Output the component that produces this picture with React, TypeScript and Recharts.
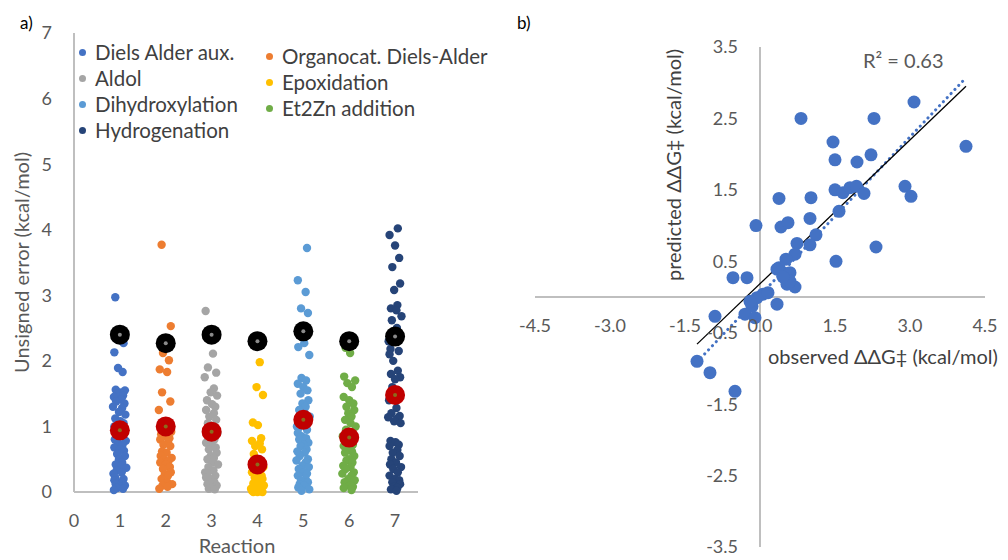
import React from 'react';
import { ScatterChart, Scatter, XAxis, YAxis, ReferenceLine, ReferenceDot, Label } from 'recharts';

const FONT = 'Lato, "Liberation Sans", sans-serif';
const TICK_COLOR = '#595959';
const AXIS_COLOR = '#bfbfbf';

// ---- panel a: unsigned errors per reaction ----
const REACTIONS = [1, 2, 3, 4, 5, 6, 7];
const X_TICKS_A = [0, 1, 2, 3, 4, 5, 6, 7];
const Y_TICKS_A = [0, 1, 2, 3, 4, 5, 6, 7];
const SERIES_NAMES = [
  'Diels Alder aux.',
  'Organocat. Diels-Alder',
  'Aldol',
  'Epoxidation',
  'Dihydroxylation',
  'Et2Zn addition',
  'Hydrogenation',
];
const SERIES_COLORS = ['#4472C4', '#ED7D31', '#A5A5A5', '#FFC000', '#5B9BD5', '#70AD47', '#264478'];

const dielsAlderAux = [2.97, 2.27, 2.13, 1.89, 1.83, 1.56, 1.55, 1.52, 1.5, 1.47, 1.45, 1.41, 1.38, 1.35, 1.3, 1.28,
  1.22, 1.18, 1.12, 1.08, 1.05, 1.0, 0.98, 0.95, 0.9, 0.88, 0.85, 0.8, 0.78, 0.75, 0.72, 0.68, 0.65, 0.63, 0.58, 0.55,
  0.5, 0.45, 0.42, 0.4, 0.37, 0.33, 0.3, 0.28, 0.22, 0.2, 0.18, 0.15, 0.14, 0.12, 0.1, 0.09, 0.06, 0.05, 0.03];
const organocatDielsAlder = [3.77, 2.53, 2.2, 2.12, 2.01, 1.87, 1.83, 1.52, 1.38, 1.25, 1.05, 0.98, 0.92, 0.88, 0.85,
  0.82, 0.8, 0.76, 0.72, 0.7, 0.62, 0.6, 0.55, 0.52, 0.5, 0.47, 0.45, 0.42, 0.38, 0.35, 0.3, 0.27, 0.25, 0.2, 0.15,
  0.12, 0.1, 0.08, 0.05];
const aldol = [2.76, 2.11, 1.9, 1.82, 1.75, 1.58, 1.52, 1.47, 1.4, 1.34, 1.3, 1.25, 1.2, 1.15, 1.1, 1.05, 1.0, 0.95,
  0.9, 0.85, 0.8, 0.75, 0.72, 0.68, 0.65, 0.6, 0.55, 0.52, 0.5, 0.45, 0.42, 0.38, 0.33, 0.3, 0.28, 0.25, 0.22, 0.2,
  0.15, 0.12, 0.1, 0.07, 0.05, 0.04];
const epoxidation = [1.98, 1.6, 1.48, 1.06, 1.02, 0.82, 0.78, 0.74, 0.7, 0.65, 0.58, 0.5, 0.45, 0.38, 0.36, 0.34, 0.3,
  0.27, 0.25, 0.22, 0.2, 0.18, 0.16, 0.13, 0.12, 0.1, 0.08, 0.06, 0.05, 0.04, 0.03, 0.02, 0.02, 0.01, 0.0, 0.0, 0.0];
const dihydroxylation = [3.72, 3.23, 3.05, 2.8, 2.73, 2.5, 2.27, 2.21, 2.09, 1.74, 1.7, 1.65, 1.6, 1.55, 1.5, 1.4,
  1.35, 1.3, 1.25, 1.2, 1.15, 1.1, 1.05, 1.0, 0.98, 0.95, 0.9, 0.85, 0.82, 0.8, 0.75, 0.72, 0.7, 0.65, 0.62, 0.6, 0.55,
  0.5, 0.48, 0.45, 0.4, 0.38, 0.35, 0.3, 0.28, 0.25, 0.2, 0.18, 0.15, 0.12, 0.1, 0.07, 0.04, 0.02];
const et2ZnAddition = [2.2, 2.12, 1.76, 1.7, 1.66, 1.6, 1.45, 1.4, 1.35, 1.3, 1.25, 1.2, 1.15, 1.1, 1.05, 1.0, 0.95,
  0.9, 0.85, 0.78, 0.72, 0.7, 0.65, 0.62, 0.6, 0.55, 0.5, 0.48, 0.45, 0.4, 0.38, 0.35, 0.3, 0.28, 0.25, 0.2, 0.18,
  0.15, 0.1, 0.08, 0.06, 0.03];
const hydrogenation = [4.02, 3.92, 3.76, 3.57, 3.43, 3.18, 3.08, 2.85, 2.8, 2.77, 2.68, 2.62, 2.5, 2.3, 2.18, 2.15, 2.1,
  2.0, 1.85, 1.8, 1.75, 1.72, 1.6, 1.55, 1.4, 1.28, 1.2, 1.16, 1.14, 1.12, 1.08, 1.05, 0.78, 0.76, 0.72, 0.7, 0.64,
  0.6, 0.55, 0.5, 0.45, 0.42, 0.38, 0.35, 0.3, 0.25, 0.2, 0.18, 0.15, 0.12, 0.08, 0.06, 0.04, 0.02];

// horizontal scatter of the strip points around each reaction number
const JITTER = [-0.1, 0.08, -0.12, -0.04, 0.06, -0.09, 0.11, 0.0, -0.06, 0.07, -0.13, 0.03, -0.08, 0.1, -0.15, 0.05,
  -0.02, 0.12, -0.1, 0.01, 0.08, -0.12, 0.05, -0.05, 0.1, -0.08, 0.02, -0.11, 0.13, -0.04, 0.06, -0.12, 0.0, 0.09,
  -0.06, 0.11, -0.02, 0.05, -0.09, 0.03, 0.14, -0.07, 0.04, -0.14];

const upperErrors = [2.4, 2.27, 2.4, 2.3, 2.45, 2.3, 2.37];
const meanErrors = [0.94, 1.0, 0.92, 0.42, 1.1, 0.83, 1.48];

// ---- panel b: observed vs predicted ----
const observed = [0.82, 2.28, 3.08, 4.12, 1.46, 1.5, 1.94, 2.22, 1.5, 1.66, 1.8, 1.93, 2.08, 2.9, 3.02, 0.38, 1.02,
  1.58, 1.0, -0.08, 0.42, 0.56, 1.12, 1.0, 0.74, 0.7, 2.32, 1.52, 0.52, 0.38, 0.6, -0.54, -0.26, 0.34, 0.54, 0.7, 0.06,
  -0.06, 0.34, -0.16, -0.3, -0.1, -0.9, -1.26, -1.0, -0.5, 0.6, 0.46, 0.16, -0.2];
const predicted = [2.5, 2.5, 2.73, 2.11, 2.17, 1.92, 1.89, 1.99, 1.5, 1.46, 1.53, 1.55, 1.45, 1.55, 1.41, 1.38, 1.39,
  1.2, 1.1, 1.0, 0.98, 1.04, 0.87, 0.73, 0.75, 0.6, 0.7, 0.5, 0.53, 0.41, 0.34, 0.27, 0.27, 0.39, 0.18, 0.14, 0.04,
  -0.01, -0.1, -0.13, -0.24, -0.29, -0.27, -0.9, -1.06, -1.32, 0.22, 0.28, 0.06, -0.06];
const X_TICKS_B = [-4.5, -3.0, -1.5, 0.0, 1.5, 3.0, 4.5];
const Y_TICKS_B = [3.5, 2.5, 1.5, 0.5, -0.5, -1.5, -2.5, -3.5];
const fitLine = [{ x: -1.26, y: -0.66 }, { x: 4.12, y: 2.95 }];
const trendLine = [{ x: -1.26, y: -0.91 }, { x: 4.12, y: 3.07 }];

const strips = [dielsAlderAux, organocatDielsAlder, aldol, epoxidation, dihydroxylation, et2ZnAddition, hydrogenation];
const stripData = strips.map((vals, s) =>
  vals.map((y, i) => ({ x: REACTIONS[s] + JITTER[(i + s * 5) % JITTER.length], y }))
);
const upperData = REACTIONS.map((x, i) => ({ x, y: upperErrors[i] }));
const meanData = REACTIONS.map((x, i) => ({ x, y: meanErrors[i] }));
const scatterB = observed.map((x, i) => ({ x, y: predicted[i] }));

const dotShape = (color: string, r: number) => (p: any) => <circle cx={p.cx} cy={p.cy} r={r} fill={color} />;
const bigMarker = (color: string, center: string) => (p: any) => (
  <g>
    <circle cx={p.cx} cy={p.cy} r={10} fill={color} />
    <circle cx={p.cx} cy={p.cy} r={2} fill={center} />
  </g>
);

function StripLegend() {
  return (
    <div style={{ position: 'absolute', left: 79, top: 39, width: 420, height: 110, fontSize: 20.5, color: '#404040' }}>
      {SERIES_NAMES.map((name, i) => {
        const col = i % 2;
        const row = Math.floor(i / 2);
        return (
          <div
            key={name}
            style={{
              position: 'absolute',
              left: col ? 187 : 0,
              top: row * 26 + (col ? 4 : 0),
              height: 26,
              display: 'flex',
              alignItems: 'center',
              whiteSpace: 'nowrap',
            }}
          >
            <span style={{ width: 7, height: 7, borderRadius: '50%', background: SERIES_COLORS[i], marginRight: 9 }} />
            {name}
          </div>
        );
      })}
    </div>
  );
}

const tickStyle = { fill: TICK_COLOR, fontSize: 18, fontFamily: FONT };

export default function App() {
  return (
    <div style={{ position: 'fixed', left: 0, top: 0, width: 1008, height: 560, background: '#fff', fontFamily: FONT }}>
      <div style={{ position: 'absolute', left: 0, top: 0 }}>
        <ScatterChart width={500} height={560} margin={{ top: 33, right: 82, bottom: 18, left: 10 }}>
          <XAxis
            type="number"
            dataKey="x"
            domain={[0, 7.5]}
            ticks={X_TICKS_A}
            height={50}
            axisLine={{ stroke: AXIS_COLOR, strokeWidth: 2 }}
            tickLine={false}
            tick={tickStyle}
            tickMargin={16}
            allowDataOverflow
          >
            <Label value="Reaction" position="bottom" offset={-3} dx={-9} style={{ fill: TICK_COLOR, fontSize: 20, fontFamily: FONT }} />
          </XAxis>
          <YAxis
            type="number"
            dataKey="y"
            domain={[0, 7]}
            ticks={Y_TICKS_A}
            width={64}
            axisLine={{ stroke: AXIS_COLOR, strokeWidth: 2 }}
            tickLine={false}
            tick={tickStyle}
            tickMargin={16}
          >
            <Label
              value="Unsigned error (kcal/mol)"
              angle={-90}
              position="insideLeft"
              offset={12}
              style={{ textAnchor: 'middle', fill: TICK_COLOR, fontSize: 20, fontFamily: FONT }}
            />
          </YAxis>
          {stripData.map((pts, s) => (
            <Scatter
              key={SERIES_NAMES[s]}
              name={SERIES_NAMES[s]}
              data={pts}
              fill={SERIES_COLORS[s]}
              shape={dotShape(SERIES_COLORS[s], 4.2)}
              isAnimationActive={false}
            />
          ))}
          <Scatter name="upper" data={upperData} fill="#000" shape={bigMarker('#000000', '#8a8a8a')} isAnimationActive={false} />
          <Scatter name="mean" data={meanData} fill="#C00000" shape={bigMarker('#C00000', '#8c6a1c')} isAnimationActive={false} />
        </ScatterChart>
      </div>
      <StripLegend />

      <div style={{ position: 'absolute', left: 500, top: 0 }}>
        <ScatterChart width={508} height={560} margin={{ top: 47, right: 23, bottom: 13, left: 35 }}>
          <XAxis type="number" dataKey="x" domain={[-4.5, 4.5]} hide allowDataOverflow />
          <YAxis type="number" dataKey="y" domain={[-3.5, 3.5]} hide allowDataOverflow />
          <ReferenceLine x={0} stroke={AXIS_COLOR} strokeWidth={2} />
          <ReferenceLine y={0} stroke={AXIS_COLOR} strokeWidth={2} />
          {X_TICKS_B.map((v) => (
            <ReferenceDot
              key={`xt${v}`}
              x={v}
              y={0}
              r={0}
              fill="none"
              stroke="none"
              label={{ value: v.toFixed(1), position: 'bottom', offset: 22, style: tickStyle }}
            />
          ))}
          {Y_TICKS_B.map((v) => (
            <ReferenceDot
              key={`yt${v}`}
              x={0}
              y={v}
              r={0}
              fill="none"
              stroke="none"
              label={{ value: v.toFixed(1), position: 'left', offset: 22, style: tickStyle }}
            />
          ))}
          <Scatter name="reactions" data={scatterB} fill="#4472C4" shape={dotShape('#4472C4', 6.5)} isAnimationActive={false} />
          <ReferenceLine
            segment={trendLine}
            stroke="#4472C4"
            strokeWidth={3}
            strokeDasharray="0.1 5.5"
            strokeLinecap="round"
          />
          <ReferenceLine segment={fitLine} stroke="#000" strokeWidth={1.3} />
        </ScatterChart>
      </div>

      <div style={{ position: 'absolute', left: 20, top: 12, fontSize: 17, color: '#000' }}>a)</div>
      <div style={{ position: 'absolute', left: 517, top: 12, fontSize: 17, color: '#000' }}>b)</div>
      <div
        style={{
          position: 'absolute',
          left: 673,
          top: 165,
          transform: 'translate(-50%, -50%) rotate(-90deg)',
          whiteSpace: 'nowrap',
          fontSize: 20,
          color: '#404040',
        }}
      >
        predicted ΔΔG‡ (kcal/mol)
      </div>
      <div style={{ position: 'absolute', left: 768, top: 344, whiteSpace: 'nowrap', fontSize: 20, color: '#404040' }}>
        observed ΔΔG‡ (kcal/mol)
      </div>
      <div style={{ position: 'absolute', left: 863, top: 48, whiteSpace: 'nowrap', fontSize: 20, color: TICK_COLOR }}>
        R² = 0.63
      </div>
    </div>
  );
}
